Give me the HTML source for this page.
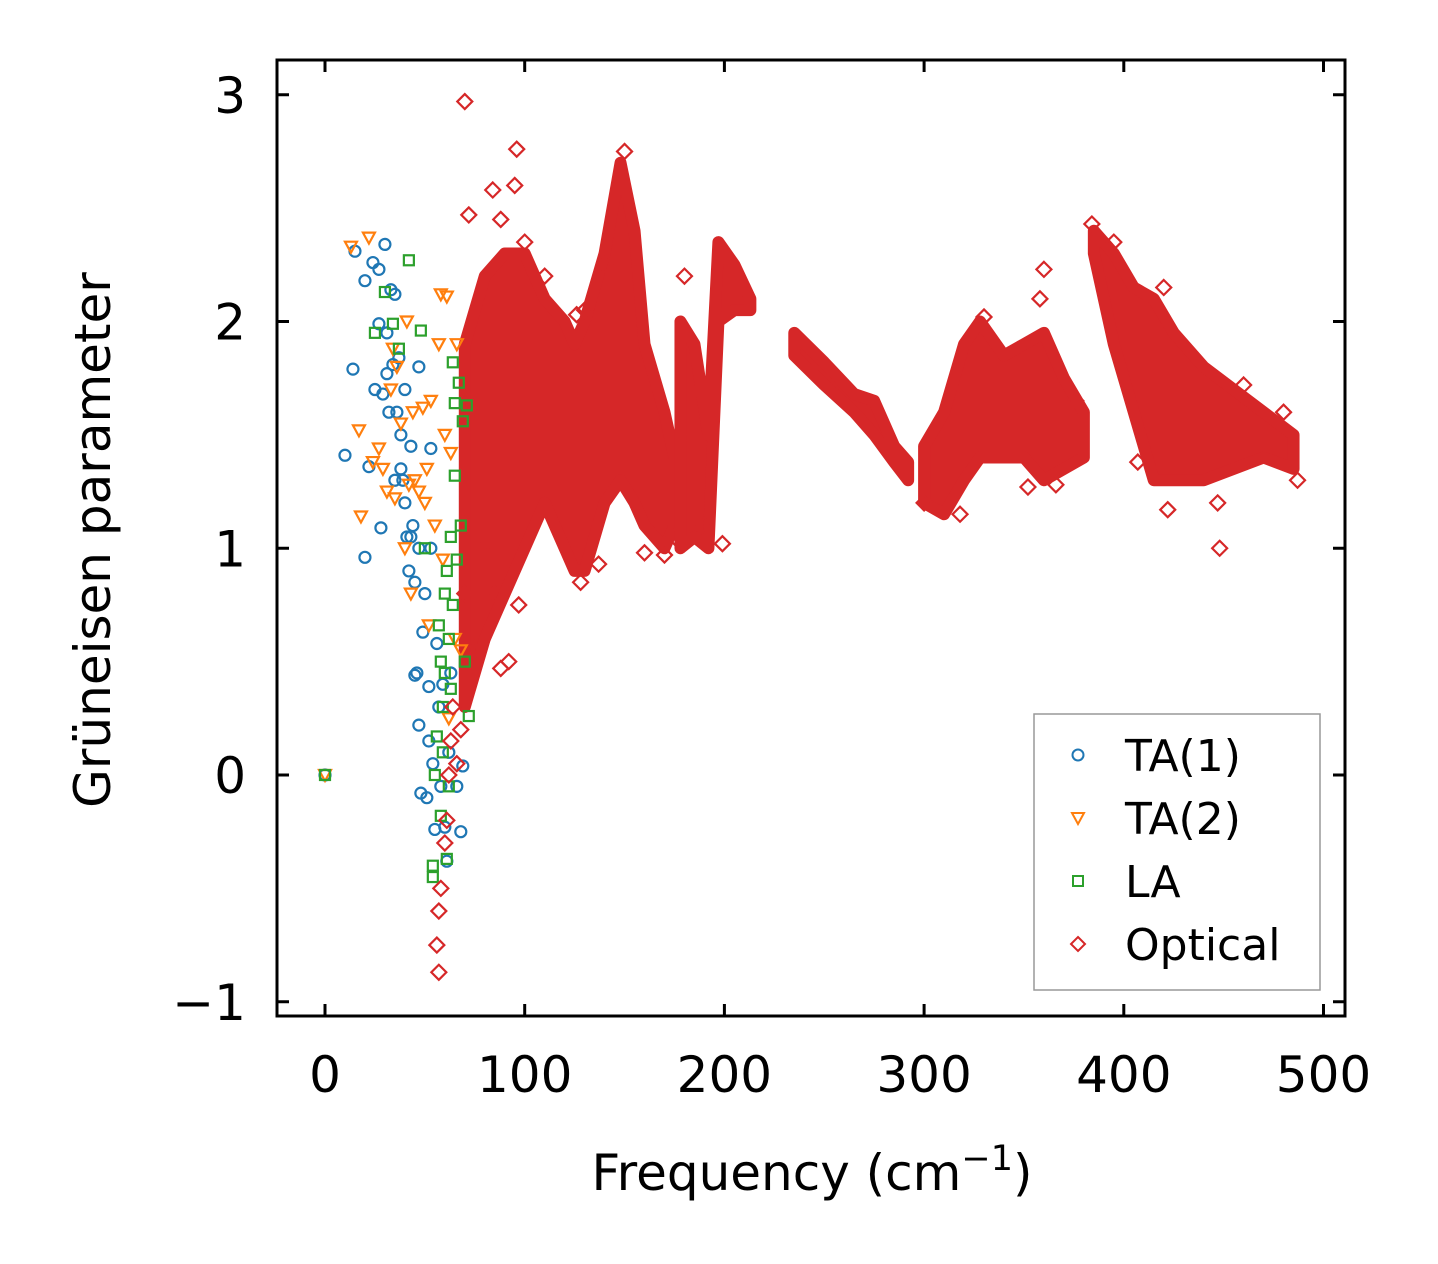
<!DOCTYPE html>
<html><head><meta charset="utf-8">
<style>
html,body{margin:0;padding:0;background:#fff;}
svg{display:block;font-family:"DejaVu Sans","Liberation Sans",sans-serif;}
</style></head>
<body>
<svg id="chart" width="1438" height="1264" viewBox="0 0 1438 1264" xmlns="http://www.w3.org/2000/svg">
<g id="bands"></g>
<g id="marks"></g>
<rect x="277" y="60" width="1068" height="956" fill="none" stroke="#000" stroke-width="3"/>
<g id="axes"></g>
<text x="812" y="1190" font-size="50" text-anchor="middle">Frequency (cm<tspan dy="-20" font-size="35">−1</tspan><tspan dy="20">)</tspan></text>
<text transform="translate(110,540) rotate(-90)" font-size="50" text-anchor="middle">Grüneisen parameter</text>
<g>
<rect x="1034" y="714" width="286" height="276" fill="#fff" stroke="#999" stroke-width="1.5"/>
<circle cx="1078" cy="755" r="5.5" fill="none" stroke="#1f77b4" stroke-width="2"/>
<text x="1125" y="771" font-size="44">TA(1)</text>
<path d="M1072,813 L1084,813 L1078,824 Z" fill="none" stroke="#ff7f0e" stroke-width="2"/>
<text x="1125" y="834" font-size="44">TA(2)</text>
<rect x="1073" y="876" width="10" height="10" fill="none" stroke="#2ca02c" stroke-width="2"/>
<text x="1125" y="897" font-size="44">LA</text>
<path d="M1078,937 L1085,944 L1078,951 L1071,944 Z" fill="none" stroke="#d62728" stroke-width="2"/>
<text x="1125" y="960" font-size="44">Optical</text>
</g>
</svg>
<script>
const xTicks=[0,100,200,300,400,500];
const yTicks=[-1,0,1,2,3];
const yTickLabels=["−1","0","1","2","3"];
const ta1=[[0,0],[10,1.41],[15,2.31],[14,1.79],[20,2.18],[20,0.96],[22,1.36],[24,2.26],[25,1.7],[27,2.23],[27,1.99],[28,1.09],[29,1.68],[30,2.34],[31,1.77],[31,1.95],[32,1.6],[33,2.14],[34,1.81],[35,1.3],[35,2.12],[36,1.6],[37,1.84],[38,1.5],[38,1.35],[40,1.7],[40,1.2],[41,1.05],[42,0.9],[43,1.45],[44,1.1],[45,0.85],[46,0.45],[47,0.22],[47,1.8],[48,-0.08],[49,0.63],[50,0.8],[51,-0.1],[52,0.15],[53,1.0],[54,0.05],[55,-0.24],[56,0.58],[57,0.3],[58,-0.05],[59,0.4],[60,-0.23],[61,-0.38],[62,0.1],[63,0.45],[66,-0.05],[68,-0.25],[69,0.04],[53,1.44],[47,1.0],[52,0.39],[45,0.44],[43,1.05],[39,1.3]];
const ta2=[[0,0],[13,2.33],[17,1.52],[18,1.14],[22,2.37],[24,1.38],[27,1.44],[29,1.35],[31,1.25],[33,1.7],[34,1.88],[35,1.22],[36,1.8],[38,1.55],[40,1.0],[41,2.0],[42,1.28],[43,0.8],[44,1.6],[45,1.3],[47,1.25],[49,1.62],[50,1.2],[51,1.35],[52,0.66],[53,1.65],[55,1.1],[57,1.9],[58,2.12],[59,0.95],[60,1.5],[61,2.11],[62,0.25],[63,1.42],[65,0.6],[66,1.9],[68,0.55]];
const la=[[0,0],[25,1.95],[30,2.13],[34,1.99],[37,1.88],[42,2.27],[48,1.96],[50,1.0],[54,-0.4],[54,-0.45],[55,0.0],[56,0.17],[57,0.66],[58,0.5],[58,-0.18],[59,0.3],[60,0.8],[60,0.45],[61,0.9],[62,0.6],[62,-0.05],[63,1.05],[63,0.38],[64,1.82],[64,0.75],[65,1.64],[66,0.95],[67,1.73],[68,1.1],[69,1.56],[70,0.5],[71,1.63],[72,0.26],[65,1.32],[61,-0.37],[59,0.1]];
const optical=[[70,2.97],[96,2.76],[95,2.6],[92,0.5],[88,0.47],[97,0.75],[85,0.8],[75,0.55],[57,-0.87],[56,-0.75],[57,-0.6],[58,-0.5],[60,-0.3],[61,-0.2],[62,0.0],[63,0.15],[64,0.3],[66,0.05],[72,2.47],[84,2.58],[448,1.0],[360,2.23],[358,2.1],[384,2.43],[447,1.2],[422,1.17],[150,2.75],[180,2.2],[170,0.97],[130,2.05],[407,1.38],[487,1.3],[126,2.03],[110,2.2],[366,1.28],[352,1.27],[300,1.2],[318,1.15],[128,0.85],[137,0.93],[68,0.2],[70,0.8],[78,1.0],[100,2.35],[88,2.45],[140,2.25],[160,0.98],[175,1.05],[190,1.1],[199,1.02],[330,2.02],[395,2.35],[420,2.15],[460,1.72],[480,1.6],[376,1.65]];
const bandFreq=[[70,80,90,100,110,120,125,130,140,148,155,160,170,175],[178,185,192,197,205,213],[235,250,265,275,285,292],[300,310,320,328,340,350,360,370,380],[385,395,405,415,425,440,455,470,485]];
const bandLo=[[0.3,0.6,0.8,1.0,1.2,1.0,0.9,0.9,1.2,1.3,1.2,1.1,1.0,1.1],[1.0,1.05,1.0,2.0,2.05,2.05],[1.85,1.72,1.6,1.5,1.38,1.3],[1.2,1.15,1.3,1.4,1.4,1.4,1.3,1.35,1.4],[2.3,1.9,1.6,1.3,1.3,1.3,1.35,1.4,1.35]];
const bandHi=[[1.9,2.2,2.3,2.3,2.1,2.0,1.9,2.0,2.3,2.7,2.4,1.9,1.6,1.4],[2.0,1.9,1.5,2.35,2.25,2.1],[1.95,1.82,1.68,1.65,1.45,1.38],[1.45,1.6,1.9,2.0,1.85,1.9,1.95,1.75,1.6],[2.4,2.3,2.15,2.1,1.95,1.8,1.7,1.6,1.5]];

const NS="http://www.w3.org/2000/svg";
const X=v=>325+v*1.997, Y=v=>775-v*226.75;
const axes=document.getElementById('axes'),marks=document.getElementById('marks'),bands=document.getElementById('bands');
function mk(tag,attrs,parent){const e=document.createElementNS(NS,tag);for(const k in attrs)e.setAttribute(k,attrs[k]);parent.appendChild(e);return e;}
xTicks.forEach(t=>{
  const x=X(t);
  const a=mk('line',{x1:x,x2:x,y1:1016,y2:1004,stroke:'#000','stroke-width':3},axes);
  
  
  const b=mk('line',{x1:x,x2:x,y1:60,y2:72,stroke:'#000','stroke-width':3},axes);
  
  
  const l=mk('text',{x:x,y:1092,'font-size':50,'text-anchor':'middle'},axes);
  l.textContent=t;
  
  
});
yTicks.forEach((t,i)=>{
  const y=Y(t);
  const a=mk('line',{x1:277,x2:289,y1:y,y2:y,stroke:'#000','stroke-width':3},axes);
  
  
  const b=mk('line',{x1:1345,x2:1333,y1:y,y2:y,stroke:'#000','stroke-width':3},axes);
  
  
  const l=mk('text',{x:246,y:y+18,'font-size':50,'text-anchor':'end'},axes);
  l.textContent=yTickLabels[i];
  
  
});
bandFreq.forEach((fs,s)=>{
  const top=fs.map((f,i)=>X(f)+','+Y(bandHi[s][i]));
  const bot=fs.map((f,i)=>X(f)+','+Y(bandLo[s][i])).reverse();
  const p=mk('polygon',{points:top.concat(bot).join(' '),fill:'#d62728',stroke:'#d62728','stroke-width':12,'stroke-linejoin':'round'},bands);
  
  
});
ta1.forEach(d=>{
  const c=mk('circle',{cx:X(d[0]),cy:Y(d[1]),r:5.5,fill:'none',stroke:'#1f77b4','stroke-width':2.2},marks);
  
  
});
ta2.forEach(d=>{
  const x=X(d[0]),y=Y(d[1]);
  const p=mk('path',{d:`M${x-6},${y-5} L${x+6},${y-5} L${x},${y+6} Z`,fill:'none',stroke:'#ff7f0e','stroke-width':2.2},marks);
  
  
});
la.forEach(d=>{
  const r=mk('rect',{x:X(d[0])-5,y:Y(d[1])-5,width:10,height:10,fill:'none',stroke:'#2ca02c','stroke-width':2.2},marks);
  
  
});
optical.forEach(d=>{
  const x=X(d[0]),y=Y(d[1]);
  const p=mk('path',{d:`M${x},${y-7.5} L${x+7.5},${y} L${x},${y+7.5} L${x-7.5},${y} Z`,fill:'none',stroke:'#d62728','stroke-width':2.2},marks);
  
  
});
</script>
</body></html>
